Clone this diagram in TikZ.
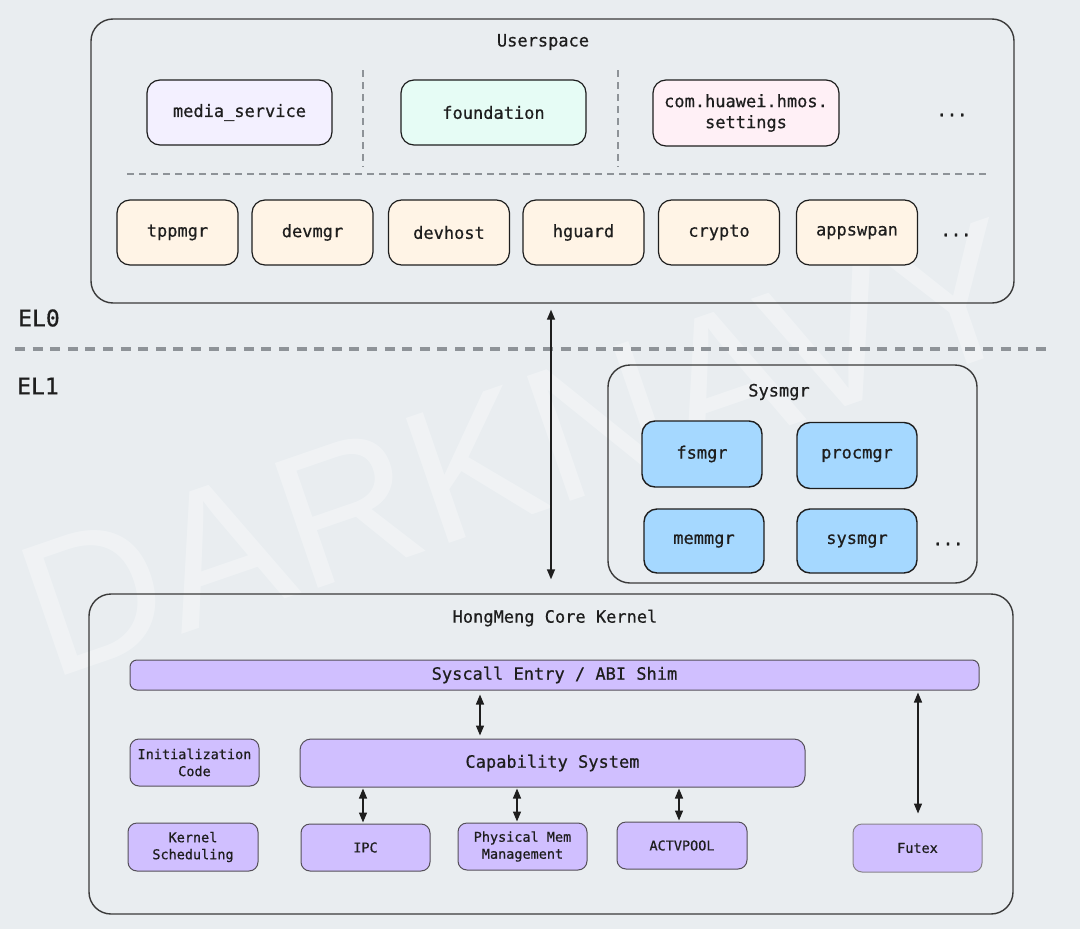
\documentclass[tikz,border=0pt]{standalone}
\usepackage{fontspec}
\setmonofont{DejaVu Sans Mono}[FakeBold=0.6]
\newfontfamily\wmfont{Liberation Sans}
\usetikzlibrary{arrows.meta}
\definecolor{ink}{HTML}{1E1E1E}
\definecolor{frame}{HTML}{3A3A3A}
\definecolor{bgc}{HTML}{E9EDF0}
\definecolor{lav}{HTML}{F3F0FF}
\definecolor{mint}{HTML}{E6FCF5}
\definecolor{pinkc}{HTML}{FFF0F6}
\definecolor{peach}{HTML}{FFF4E6}
\definecolor{sky}{HTML}{A5D8FF}
\definecolor{vio}{HTML}{D0BFFF}
\definecolor{kborder}{HTML}{555059}
\definecolor{dashc}{HTML}{8E9398}
\newcommand\dgmain{\ttfamily\fontsize{17}{21}\selectfont}
\newcommand\dgsmall{\ttfamily\fontsize{13.5}{17}\selectfont}
\newcommand\dgel{\ttfamily\fontsize{23}{27}\selectfont}
\begin{document}
\begin{tikzpicture}[x=1pt,y=-1pt,
  bigbox/.style={draw=frame, line width=1.4pt, rounded corners=22pt, inner sep=0pt},
  ubox/.style={draw=ink, line width=1.2pt, rounded corners=13pt, inner sep=0pt, font=\dgmain, text=ink, align=center},
  kbox/.style={draw=kborder, fill=vio, line width=1pt, rounded corners=9pt, inner sep=0pt, font=\dgsmall, text=ink, align=center},
  lbl/.style={font=\dgmain, text=ink, inner sep=0pt},
  thindash/.style={draw=dashc, line width=1.3pt, dash pattern=on 7pt off 5pt},
  arr/.style={{Triangle[length=10pt,width=8pt]}-{Triangle[length=10pt,width=8pt]}, line width=1.4pt, draw=ink}]
\fill[bgc] (0,0) rectangle (1080,929);
\useasboundingbox (0,0) rectangle (1080,929);

% watermark
\node[text=white, opacity=0.32, font=\wmfont\fontsize{192}{194}\selectfont, rotate=19, inner sep=0pt] (wm) at (522,448) {DARKNAVY};

% Userspace
\node[bigbox, minimum width=923pt, minimum height=284pt] (user) at (552.5,161) {};
\node[lbl] (userlbl) at (543,42) {Userspace};
\node[ubox, fill=lav, minimum width=185pt, minimum height=65pt] (media) at (239.5,112.5) {media\_service};
\node[ubox, fill=mint, minimum width=185pt, minimum height=65pt] (found) at (493.5,112.5) {foundation};
\node[ubox, fill=pinkc, minimum width=186pt, minimum height=66pt] (hmos) at (746,113) {com.huawei.hmos.\\settings};
\node[lbl] (dots1) at (952,115) {...};
\coordinate (v1a) at (363,70); \coordinate (v1b) at (363,167);
\coordinate (v2a) at (618,70); \coordinate (v2b) at (618,167);
\coordinate (h1a) at (127,174); \coordinate (h1b) at (988,174);
\draw[thindash] (v1a) -- (v1b);
\draw[thindash] (v2a) -- (v2b);
\draw[thindash] (h1a) -- (h1b);
\foreach \nm/\cx/\tx in {tpp/177.5/tppmgr, devm/312.5/devmgr, devh/449/devhost, hg/583.5/hguard, cry/719/crypto, apps/857/appswpan}{
  \node[ubox, fill=peach, minimum width=121pt, minimum height=65pt] (\nm) at (\cx,232.5) {\tx};
}
\node[lbl] (dots2) at (956,235) {...};

% EL separator
\node[font=\dgel, text=ink, inner sep=0pt] (el0) at (39,318) {EL0};
\node[font=\dgel, text=ink, inner sep=0pt] (el1) at (38,386) {EL1};
\coordinate (sepa) at (15,349); \coordinate (sepb) at (1047,349);
\draw[draw=dashc, line width=4pt, dash pattern=on 10pt off 7.6pt] (sepa) -- (sepb);

% Sysmgr
\node[bigbox, minimum width=369pt, minimum height=218pt] (sysg) at (792.5,474) {};
\node[lbl] (syslbl) at (779,392) {Sysmgr};
\node[ubox, fill=sky, line width=1.4pt, minimum width=120pt, minimum height=66pt] (fs) at (702,454) {fsmgr};
\node[ubox, fill=sky, line width=1.4pt, minimum width=120pt, minimum height=66pt] (proc) at (857,455.5) {procmgr};
\node[ubox, fill=sky, line width=1.4pt, minimum width=120pt, minimum height=64pt] (mem) at (704,541) {memmgr};
\node[ubox, fill=sky, line width=1.4pt, minimum width=120pt, minimum height=64pt] (sysm) at (857,541) {sysmgr};
\node[lbl] (dots3) at (948,544) {...};

% Kernel
\node[bigbox, minimum width=924pt, minimum height=320pt] (kern) at (551,754) {};
\node[lbl] (kernlbl) at (555,618) {HongMeng Core Kernel};
\node[kbox, font=\dgmain, rounded corners=7pt, minimum width=849pt, minimum height=30pt] (sys) at (554.5,675) {Syscall Entry / ABI Shim};
\node[kbox, font=\dgmain, rounded corners=11pt, minimum width=505pt, minimum height=48pt] (cap) at (552.5,763) {Capability System};
\node[kbox, minimum width=129pt, minimum height=47pt] (init) at (194.5,762.5) {Initialization\\Code};
\node[kbox, minimum width=130pt, minimum height=48pt] (ksch) at (193,847) {Kernel\\Scheduling};
\node[kbox, minimum width=129pt, minimum height=47pt] (ipc) at (365.5,847.5) {IPC};
\node[kbox, minimum width=129pt, minimum height=47pt] (pmm) at (522.5,846.5) {Physical Mem\\Management};
\node[kbox, minimum width=130pt, minimum height=47pt] (actv) at (682,845.5) {ACTVPOOL};
\node[kbox, draw=kborder!70, minimum width=129pt, minimum height=48pt] (futex) at (917.5,848) {Futex};

% arrows
\coordinate (bigx) at (551,0);
\draw[arr] ([yshift=-6pt]bigx |- user.south) -- ([yshift=14pt]bigx |- kern.north);
\coordinate (scx) at (480,0);
\draw[arr, shorten <=4pt, shorten >=3pt] (scx |- sys.south) -- (scx |- cap.north);
\coordinate (ax1) at (363,0);
\coordinate (ax2) at (517,0);
\coordinate (ax3) at (679,0);
\coordinate (ax4) at (918,0);
\draw[arr, shorten <=1pt, shorten >=1pt] (ax1 |- cap.south) -- (ax1 |- ipc.north);
\draw[arr, shorten <=1pt, shorten >=1pt] (ax2 |- cap.south) -- (ax2 |- pmm.north);
\draw[arr, shorten <=1pt, shorten >=1pt] (ax3 |- cap.south) -- (ax3 |- actv.north);
\draw[arr, shorten <=2pt, shorten >=10pt] (ax4 |- sys.south) -- (ax4 |- futex.north);
\end{tikzpicture}
\end{document}
